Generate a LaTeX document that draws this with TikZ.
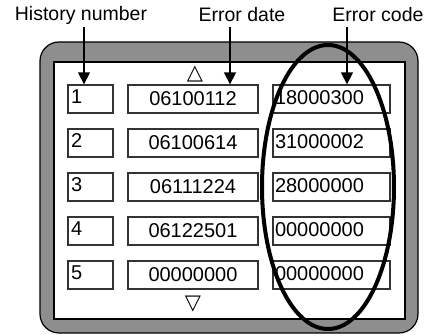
\documentclass[tikz,border=0pt]{standalone}
\usepackage{fontspec}
\setmainfont{Liberation Sans}
\newfontfamily\dejavu{DejaVu Sans}
\usetikzlibrary{arrows.meta}
\definecolor{framegray}{HTML}{8E8E8E}
\definecolor{boxline}{HTML}{333333}
\tikzset{
  txt/.style={font=\fontsize{20}{22}\selectfont, text=black},
  cell/.style={draw=boxline, line width=1.3pt, fill=white, minimum height=28pt, inner ysep=0pt, txt},
  numbox/.style={cell, text width=39pt, inner xsep=3pt, align=left, text depth=4pt},
  datebox/.style={cell, minimum width=130pt, inner xsep=0pt},
  codebox/.style={cell, text width=113pt, inner xsep=2pt, align=left, text depth=3pt},
  lbl/.style={font=\fontsize{19.5}{22}\selectfont, inner sep=0pt},
  pointer/.style={line width=1.5pt, -{Triangle[width=12pt,length=12pt]}},
  marker/.style={font=\dejavu\fontsize{21}{21}\selectfont, inner sep=0pt}
}
\begin{document}
\begin{tikzpicture}[x=1pt,y=-1pt]
\useasboundingbox (0,0) rectangle (424,336);
% frame
\draw[fill=framegray, draw=black, line width=1.2pt, rounded corners=19pt] (40,42) rectangle (418,333);
\draw[fill=white, draw=black, line width=1.2pt] (54,62) rectangle (405,319);
% labels
\node[lbl] (lh) at (81,15) {History number};
\node[lbl] (ld) at (242,15) {Error date};
\node[lbl] (lc) at (378,15) {Error code};
% markers
\node[marker] (up) at (195,74) {△};
\node[marker] (dn) at (193,304) {▽};
% rows
\node[numbox] (n1) at (90.5,99) {1};
\node[datebox] (d1) at (193,99) {06100112};
\node[codebox] (c1) at (331.5,99) {18000300};
\node[numbox] (n2) at (90.5,143) {2};
\node[datebox] (d2) at (193,143) {06100614};
\node[codebox] (c2) at (331.5,143) {31000002};
\node[numbox] (n3) at (90.5,187) {3};
\node[datebox] (d3) at (193,187) {06111224};
\node[codebox] (c3) at (331.5,187) {28000000};
\node[numbox] (n4) at (90.5,231) {4};
\node[datebox] (d4) at (193,231) {06122501};
\node[codebox] (c4) at (331.5,231) {00000000};
\node[numbox] (n5) at (90.5,275) {5};
\node[datebox] (d5) at (193,275) {00000000};
\node[codebox] (c5) at (331.5,275) {00000000};
% ellipse
\draw[line width=4pt] (328,187) ellipse [x radius=66pt, y radius=142pt];
% arrows
\coordinate (ah) at (84,27);
\coordinate (ad) at (230,27);
\coordinate (ac) at (347,27);
\draw[pointer] (ah) -- (ah |- n1.north);
\draw[pointer] (ad) -- (ad |- d1.north);
\draw[pointer] (ac) -- (ac |- c1.north);
\end{tikzpicture}
\end{document}
